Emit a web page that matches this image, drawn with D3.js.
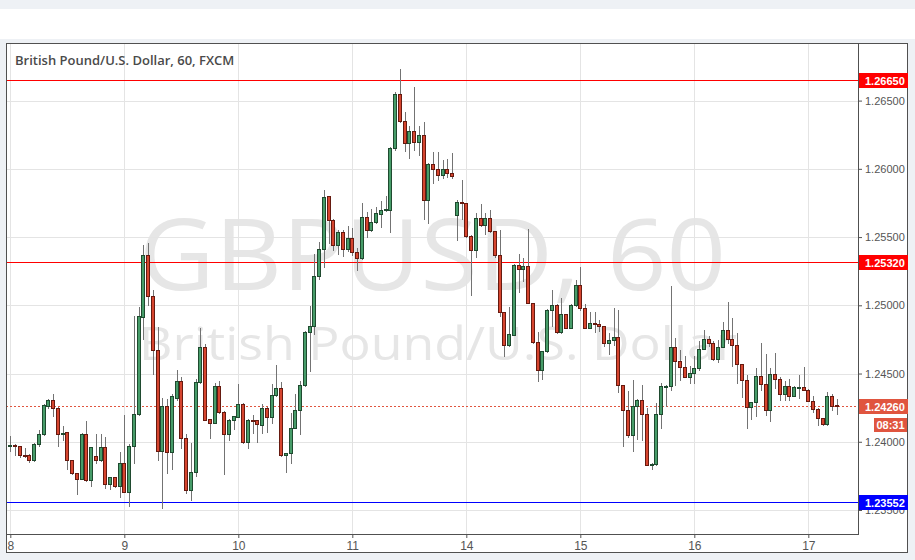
<!DOCTYPE html>
<html><head><meta charset="utf-8">
<script src="https://cdn.jsdelivr.net/npm/d3@7"></script>
<style>
html,body{margin:0;padding:0;background:#eef1f5;}
svg{display:block;}
</style></head><body>
<svg id="c" width="915" height="560"></svg>
<script>
const titleText = "British Pound/U.S. Dollar, 60, FXCM";
const watermarkLines = ["GBPUSD, 60", "British Pound/U.S. Dollar"];
const dayLabels = ["8","9","10","11","14","15","16","17"];
const barsPerDay = 24;
const priceTicks = [1.235, 1.24, 1.245, 1.25, 1.255, 1.26, 1.265];
const levelPrices = [1.2665, 1.2532, 1.23552];
const levelColors = ["#ff0000", "#ff0000", "#0000ff"];
const lastPrice = 1.2426;
const countdown = "08:31";

const open = [1.23966,1.23976,1.23966,1.23902,1.23900,1.23863,1.23981,1.24054,1.24264,1.24308,1.24249,1.24054,1.24068,1.23863,1.23771,1.23727,1.24059,1.23717,1.23897,1.23863,1.23961,1.23688,1.23742,1.23675,
1.23844,1.23634,1.23966,1.24200,1.24916,1.25371,1.25070,1.24675,1.23936,1.24259,1.23922,1.24323,1.24447,1.24030,1.23643,1.23775,1.24435,1.24695,1.24166,1.24141,1.24411,1.24220,1.24054,1.24156,
1.24181,1.24279,1.23995,1.24161,1.24156,1.24122,1.24249,1.24181,1.24343,1.24396,1.23902,1.23917,1.24103,1.24230,1.24418,1.24801,1.24851,1.25217,1.25413,1.25798,1.25628,1.25444,1.25537,1.25413,
1.25494,1.25391,1.25344,1.25647,1.25549,1.25608,1.25672,1.25696,1.25701,1.26150,1.26551,1.26353,1.26190,1.26280,1.26197,1.26251,1.25769,1.26036,1.25999,1.25952,1.25999,1.25970,1.25662,1.25757,
1.25750,1.25510,1.25403,1.25640,1.25586,1.25640,1.25542,1.25366,1.24951,1.24706,1.24785,1.25296,1.25267,1.25291,1.25017,1.24728,1.24523,1.24662,1.24968,1.25004,1.24801,1.24936,1.24834,1.25004,
1.25149,1.24980,1.24834,1.24870,1.24863,1.24846,1.24724,1.24748,1.24768,1.24413,1.24235,1.24047,1.24259,1.24308,1.24203,1.23827,1.23834,1.24200,1.24401,1.24406,1.24695,1.24589,1.24548,1.24475,
1.24504,1.24540,1.24680,1.24753,1.24724,1.24606,1.24695,1.24816,1.24753,1.24709,1.24570,1.24455,1.24254,1.24291,1.24484,1.24424,1.24235,1.24499,1.24460,1.24350,1.24406,1.24337,1.24401,1.24401,
1.24381,1.24301,1.24242,1.24174,1.24130,1.24337,1.24268];
const high = [1.24044,1.23980,1.23968,1.23951,1.23907,1.23991,1.24083,1.24279,1.24310,1.24352,1.24252,1.24112,1.24073,1.23866,1.23773,1.24064,1.24151,1.23963,1.24059,1.24059,1.24035,1.23745,1.23745,1.23927,
1.24196,1.23980,1.24923,1.24988,1.25439,1.25456,1.25114,1.24841,1.24318,1.24313,1.24352,1.24528,1.24471,1.24054,1.23991,1.24462,1.24833,1.24717,1.24168,1.24431,1.24447,1.24222,1.24165,1.24189,
1.24425,1.24284,1.24164,1.24196,1.24158,1.24274,1.24252,1.24425,1.24560,1.24435,1.23920,1.24211,1.24352,1.24447,1.24810,1.24992,1.25379,1.25461,1.25843,1.25801,1.25631,1.25554,1.25554,1.25584,
1.25566,1.25420,1.25750,1.25681,1.25706,1.25721,1.25767,1.25798,1.26158,1.26561,1.26735,1.26417,1.26317,1.26600,1.26317,1.26344,1.26040,1.26121,1.26126,1.26067,1.26075,1.26117,1.25774,1.25921,
1.25752,1.25513,1.25677,1.25745,1.25677,1.25701,1.25545,1.25554,1.24954,1.24985,1.25299,1.25379,1.25344,1.25559,1.25020,1.24801,1.24665,1.24971,1.25114,1.25007,1.25054,1.24939,1.25007,1.25188,
1.25278,1.25012,1.24948,1.24948,1.24894,1.24849,1.24797,1.24980,1.24968,1.24416,1.24374,1.24450,1.24311,1.24418,1.24247,1.23842,1.24284,1.24431,1.24414,1.25144,1.24760,1.24675,1.24626,1.24553,
1.24626,1.24736,1.24816,1.24777,1.24736,1.24748,1.24875,1.25021,1.24907,1.24797,1.24573,1.24491,1.24294,1.24540,1.24724,1.24645,1.24540,1.24650,1.24475,1.24442,1.24460,1.24406,1.24489,1.24548,
1.24384,1.24333,1.24245,1.24177,1.24362,1.24352,1.24313];
const low = [1.23936,1.23902,1.23887,1.23887,1.23853,1.23860,1.23966,1.24050,1.24249,1.24186,1.23971,1.24015,1.23800,1.23766,1.23614,1.23724,1.23714,1.23678,1.23848,1.23860,1.23663,1.23653,1.23670,1.23594,
1.23630,1.23526,1.23846,1.24195,1.24755,1.25004,1.24499,1.23868,1.23512,1.23771,1.23800,1.24308,1.23951,1.23624,1.23575,1.23746,1.24429,1.24158,1.24025,1.24137,1.24212,1.23766,1.24015,1.24093,
1.24178,1.23991,1.23956,1.24064,1.24000,1.24064,1.24073,1.24141,1.24332,1.23899,1.23775,1.23844,1.24100,1.24054,1.24411,1.24516,1.24792,1.25193,1.25281,1.25456,1.25408,1.25379,1.25364,1.25395,
1.25371,1.25261,1.25340,1.25500,1.25546,1.25604,1.25574,1.25693,1.25535,1.26136,1.26345,1.26128,1.26077,1.26136,1.26099,1.25633,1.25604,1.25897,1.25921,1.25933,1.25941,1.25930,1.25481,1.25633,
1.25503,1.25078,1.25354,1.25579,1.25525,1.25535,1.25354,1.24919,1.24626,1.24703,1.24782,1.25095,1.25175,1.25014,1.24725,1.24442,1.24462,1.24659,1.24846,1.24798,1.24798,1.24831,1.24831,1.24997,
1.24963,1.24831,1.24831,1.24801,1.24809,1.24699,1.24645,1.24711,1.24365,1.23966,1.24035,1.23929,1.24022,1.24015,1.23829,1.23800,1.23831,1.24101,1.24259,1.24381,1.24418,1.24455,1.24472,1.24431,
1.24431,1.24528,1.24677,1.24699,1.24596,1.24582,1.24692,1.24724,1.24553,1.24431,1.24328,1.24101,1.24167,1.24186,1.24381,1.24198,1.24149,1.24391,1.24308,1.24308,1.24308,1.24332,1.24320,1.24378,
1.24298,1.24215,1.24125,1.24125,1.24125,1.24230,1.24205];
const close = [1.23976,1.23966,1.23902,1.23900,1.23863,1.23986,1.24059,1.24269,1.24308,1.24249,1.24054,1.24064,1.23863,1.23771,1.23727,1.24059,1.23717,1.23961,1.23863,1.23961,1.23688,1.23742,1.23675,1.23844,
1.23634,1.23966,1.24205,1.24923,1.25371,1.25066,1.24670,1.23936,1.24259,1.23922,1.24332,1.24445,1.24025,1.23643,1.23780,1.24438,1.24695,1.24161,1.24141,1.24409,1.24215,1.24054,1.24161,1.24186,
1.24279,1.23995,1.24161,1.24151,1.24127,1.24249,1.24181,1.24343,1.24396,1.23902,1.23917,1.24103,1.24235,1.24415,1.24806,1.24851,1.25217,1.25413,1.25794,1.25628,1.25439,1.25537,1.25413,1.25494,
1.25388,1.25344,1.25647,1.25549,1.25611,1.25677,1.25701,1.25706,1.26155,1.26551,1.26348,1.26190,1.26280,1.26197,1.26251,1.25769,1.26036,1.25999,1.25952,1.25999,1.25970,1.25944,1.25757,1.25750,
1.25506,1.25403,1.25640,1.25586,1.25640,1.25542,1.25366,1.24951,1.24706,1.24792,1.25296,1.25267,1.25291,1.25017,1.24728,1.24528,1.24662,1.24968,1.25004,1.24801,1.24936,1.24834,1.25004,1.25149,
1.24980,1.24834,1.24870,1.24863,1.24846,1.24724,1.24748,1.24768,1.24413,1.24235,1.24047,1.24259,1.24308,1.24203,1.23832,1.23839,1.24205,1.24406,1.24411,1.24695,1.24589,1.24548,1.24475,1.24504,
1.24540,1.24680,1.24753,1.24724,1.24606,1.24695,1.24816,1.24753,1.24709,1.24570,1.24455,1.24254,1.24291,1.24484,1.24424,1.24235,1.24499,1.24460,1.24350,1.24406,1.24337,1.24401,1.24402,1.24381,
1.24301,1.24242,1.24174,1.24130,1.24337,1.24262,1.24260];

const bars = open.map((o, i) => ({i, o, h: high[i], l: low[i], c: close[i]}));

const L = 6, R = 858, T = 43, B = 534, FR = 908, FB = 553;
const svg = d3.select("#c");

// header band and frame
svg.append("rect").attr("x", 0).attr("y", 9).attr("width", 915).attr("height", 30).attr("fill", "#ffffff");
svg.append("rect").attr("x", L).attr("y", T).attr("width", FR - L).attr("height", FB - T).attr("fill", "#ffffff");

const x = d3.scaleLinear().domain([0, bars.length - 1]).range([10.3, 10.3 + 4.75 * (bars.length - 1)]);
const y = d3.scaleLinear().domain([1.235, 1.265]).range([510, 100.6]);
// snap horizontal level lines to the pixel row they occupy in the reference
const snapRow = v => Math.round(v / 2) * 2;

// watermark
const wm = svg.append("g").attr("font-family", "'Open Sans', 'Noto Sans', sans-serif").attr("fill", "#e6e6e6");
wm.append("text").attr("x", 139).attr("y", 290).attr("font-size", 98)
  .attr("textLength", 587).attr("lengthAdjust", "spacingAndGlyphs").text(watermarkLines[0]);
wm.append("text").attr("x", 139).attr("y", 360).attr("font-size", 46.5)
  .attr("textLength", 598).attr("lengthAdjust", "spacingAndGlyphs").text(watermarkLines[1]);

// grid
const dayIdx = dayLabels.map((d, k) => k * barsPerDay);
const grid = svg.append("g").attr("fill", "#e4e4e4");
grid.selectAll("rect.v").data(dayIdx).join("rect").attr("class", "v")
  .attr("x", d => Math.round(x(d))).attr("width", 1).attr("y", T).attr("height", B - T);
grid.selectAll("rect.h").data(priceTicks).join("rect").attr("class", "h")
  .attr("x", L).attr("width", R - L).attr("y", d => Math.round(y(d))).attr("height", 1);

// title
svg.append("text").attr("x", 15).attr("y", 65).attr("font-family", "'Open Sans', sans-serif")
  .attr("font-weight", 600).attr("font-size", 13).attr("fill", "#4a4a4a").text(titleText);

// level lines (1px rects)
svg.append("g").selectAll("rect").data(levelPrices).join("rect")
  .attr("x", L).attr("width", R - L).attr("y", d => snapRow(y(d))).attr("height", 1)
  .style("fill", (d, k) => levelColors[k]);

// current price dotted line
const cpColor = "#e0553f";
const dashes = d3.range(L, R, 4);
svg.append("g").selectAll("rect").data(dashes).join("rect")
  .attr("x", d => d).attr("width", 2).attr("y", snapRow(y(lastPrice))).attr("height", 1)
  .style("fill", cpColor);

// candles
const upFill = "#479c69", upLine = "#1f4a2f", dnFill = "#d6452f", dnLine = "#661a10";
const cg = svg.append("g");
cg.selectAll("rect.wick").data(bars).join("rect").attr("class", "wick")
  .attr("x", d => Math.round(x(d.i))).attr("width", 1)
  .attr("y", d => Math.round(y(d.h))).attr("height", d => Math.round(y(d.l)) - Math.round(y(d.h)) + 1)
  .style("fill", "#737373");
cg.selectAll("rect.body").data(bars).join("rect").attr("class", "body")
  .attr("x", d => Math.round(x(d.i)) - 1.5)
  .attr("y", d => Math.round(y(Math.max(d.o, d.c))) + 0.5)
  .attr("width", 3)
  .attr("height", d => Math.max(1, Math.round(y(Math.min(d.o, d.c))) - Math.round(y(Math.max(d.o, d.c)))))
  .style("fill", d => d.c >= d.o ? upFill : dnFill)
  .style("stroke", d => d.c >= d.o ? upLine : dnLine).style("stroke-width", 1);

// right price axis
const yAxis = d3.axisRight(y).tickValues(priceTicks).tickFormat(d3.format(".5f")).tickSize(4).tickPadding(3);
const ya = svg.append("g").attr("transform", `translate(${R},0)`).call(yAxis);
ya.select(".domain").remove();
ya.selectAll(".tick line").attr("stroke", "#555");
ya.selectAll(".tick text").attr("fill", "#555").attr("font-size", 11).attr("font-family", "'Liberation Sans', Arial, sans-serif");

// bottom time axis
const xAxis = d3.axisBottom(x).tickValues(dayIdx).tickFormat((d, k) => dayLabels[k]).tickSize(4).tickPadding(3);
const xa = svg.append("g").attr("transform", `translate(0,${B})`).call(xAxis);
xa.select(".domain").remove();
xa.selectAll(".tick line").attr("stroke", "#555");
xa.selectAll(".tick text").attr("fill", "#555").attr("font-size", 12).attr("font-family", "'Liberation Sans', Arial, sans-serif");

// frame lines
const fr = svg.append("g").attr("stroke", "#505050").attr("stroke-width", 1).attr("fill", "none");
fr.append("rect").attr("x", L + 0.5).attr("y", T + 0.5).attr("width", FR - L - 1).attr("height", FB - T - 1);
fr.append("line").attr("x1", R + 0.5).attr("x2", R + 0.5).attr("y1", T).attr("y2", B + 1);
fr.append("line").attr("x1", L).attr("x2", R + 1).attr("y1", B + 0.5).attr("y2", B + 0.5);

// level labels
const labelFont = "'Liberation Sans', Arial, sans-serif";
const fmt = d3.format(".5f");
const lab = svg.append("g");
levelPrices.forEach((p, k) => {
  const yy = snapRow(y(p));
  lab.append("rect").attr("x", R + 1).attr("y", yy - 7).attr("width", FR - R - 1).attr("height", 15).style("fill", levelColors[k]);
  lab.append("text").attr("x", R + 7).attr("y", yy + 4.5).attr("fill", "#fff").attr("font-weight", "bold")
    .attr("font-size", 11).attr("font-family", labelFont).text(fmt(p));
});
const cy = snapRow(y(lastPrice));
lab.append("rect").attr("x", R + 1).attr("y", cy - 7).attr("width", FR - R - 1).attr("height", 15).style("fill", cpColor);
lab.append("text").attr("x", R + 7).attr("y", cy + 4.5).attr("fill", "#fff").attr("font-weight", "bold")
  .attr("font-size", 11).attr("font-family", labelFont).text(fmt(lastPrice));
lab.append("rect").attr("x", 874).attr("y", cy + 12).attr("width", 33).attr("height", 14).style("fill", cpColor);
lab.append("text").attr("x", 890.5).attr("y", cy + 23).attr("text-anchor", "middle").attr("fill", "#fff").attr("font-weight", "bold")
  .attr("font-size", 11).attr("font-family", labelFont).text(countdown);
</script>
</body></html>
